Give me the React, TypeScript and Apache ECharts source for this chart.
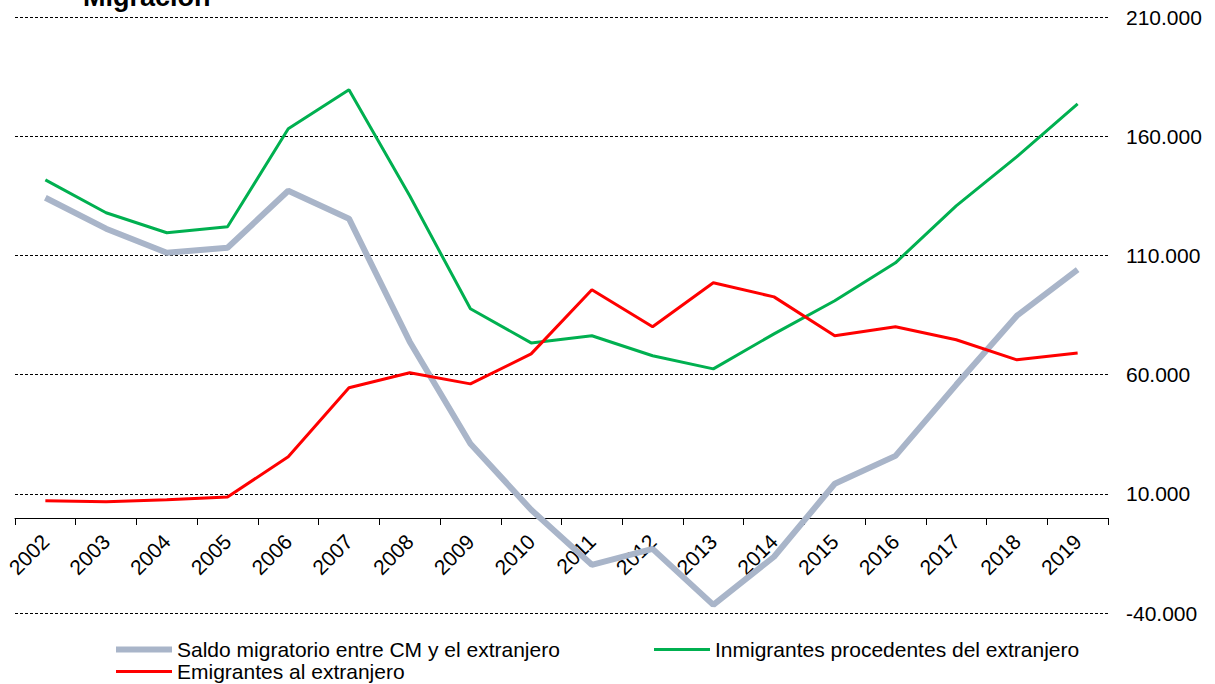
import React, { useEffect, useRef } from "react";
import * as echarts from "echarts";

const years = ["2002","2003","2004","2005","2006","2007","2008","2009","2010","2011","2012","2013","2014","2015","2016","2017","2018","2019"];
const saldo = [134200,121200,111100,113200,137100,125400,73800,31000,3300,-19800,-13100,-36600,-16400,14200,25900,55700,84700,104000];
const inmigrantes = [141700,127900,119500,122000,163100,179500,135000,87600,73300,76300,67900,62400,77100,91000,106900,130800,151400,173600];
const emigrantes = [7100,6700,7500,8700,25500,54500,60800,56100,68700,95600,80100,98500,92600,76300,80100,74600,66200,69100];

const nameSaldo = "Saldo migratorio entre CM y el extranjero";
const nameInm = "Inmigrantes procedentes del extranjero";
const nameEmi = "Emigrantes al extranjero";

const FONT = "'Liberation Sans', Arial, sans-serif";

export default function App() {
  const ref = useRef<HTMLDivElement>(null);
  useEffect(() => {
    const chart = echarts.init(ref.current!, null, { renderer: "svg" });
    const fmt = (v: number) => {
      const s = Math.abs(v).toString().replace(/\B(?=(\d{3})+(?!\d))/g, ".");
      return (v < 0 ? "-" : "") + s;
    };
    const legendBase = {
      orient: "horizontal" as const,
      icon: "rect",
      itemWidth: 56,
      itemGap: 0,
      textStyle: { fontFamily: FONT, fontSize: 21, color: "#000" },
      selectedMode: false,
      padding: 0,
    };
    chart.setOption({
      animation: false,
      backgroundColor: "#fff",
      graphic: [
        {
          type: "text",
          x: 83,
          y: -17,
          style: { text: "Migración", fontFamily: FONT, fontSize: 27, fontWeight: "bold", fill: "#000", verticalAlign: "top" },
        },
      ],
      legend: [
        { ...legendBase, left: 116, top: 639, itemHeight: 6, data: [nameSaldo] },
        { ...legendBase, left: 654, top: 639, itemHeight: 3, data: [nameInm] },
        { ...legendBase, left: 116, top: 661, itemHeight: 3, data: [nameEmi] },
      ],
      grid: { left: 15, right: 107, top: 17, bottom: 71, containLabel: false },
      xAxis: {
        type: "category",
        data: years,
        boundaryGap: true,
        offset: -95,
        axisLine: { onZero: false, lineStyle: { color: "#000", width: 1 } },
        axisTick: { show: true, alignWithLabel: false, length: 7, lineStyle: { color: "#000" } },
        axisLabel: { rotate: 45, fontFamily: FONT, fontSize: 21, color: "#000", margin: 20, interval: 0 },
        splitLine: { show: false },
      },
      yAxis: {
        type: "value",
        position: "right",
        min: -40000,
        max: 210000,
        interval: 50000,
        axisLine: { show: false },
        axisTick: { show: false },
        axisLabel: { formatter: fmt, fontFamily: FONT, fontSize: 21, color: "#000", margin: 18 },
        splitLine: { show: true, lineStyle: { color: "#000", type: [3, 2], width: 1 } },
      },
      series: [
        {
          name: nameSaldo,
          type: "line",
          data: saldo,
          symbol: "none",
          lineStyle: { color: "#A9B5C9", width: 6 },
          itemStyle: { color: "#A9B5C9" },
          z: 2,
        },
        {
          name: nameInm,
          type: "line",
          data: inmigrantes,
          symbol: "none",
          lineStyle: { color: "#00B050", width: 3 },
          itemStyle: { color: "#00B050" },
          z: 3,
        },
        {
          name: nameEmi,
          type: "line",
          data: emigrantes,
          symbol: "none",
          lineStyle: { color: "#FF0000", width: 3 },
          itemStyle: { color: "#FF0000" },
          z: 4,
        },
      ],
    });
    return () => chart.dispose();
  }, []);
  return (
    <div
      ref={ref}
      style={{ position: "absolute", left: 0, top: 0, width: 1215, height: 684 }}
    />
  );
}
